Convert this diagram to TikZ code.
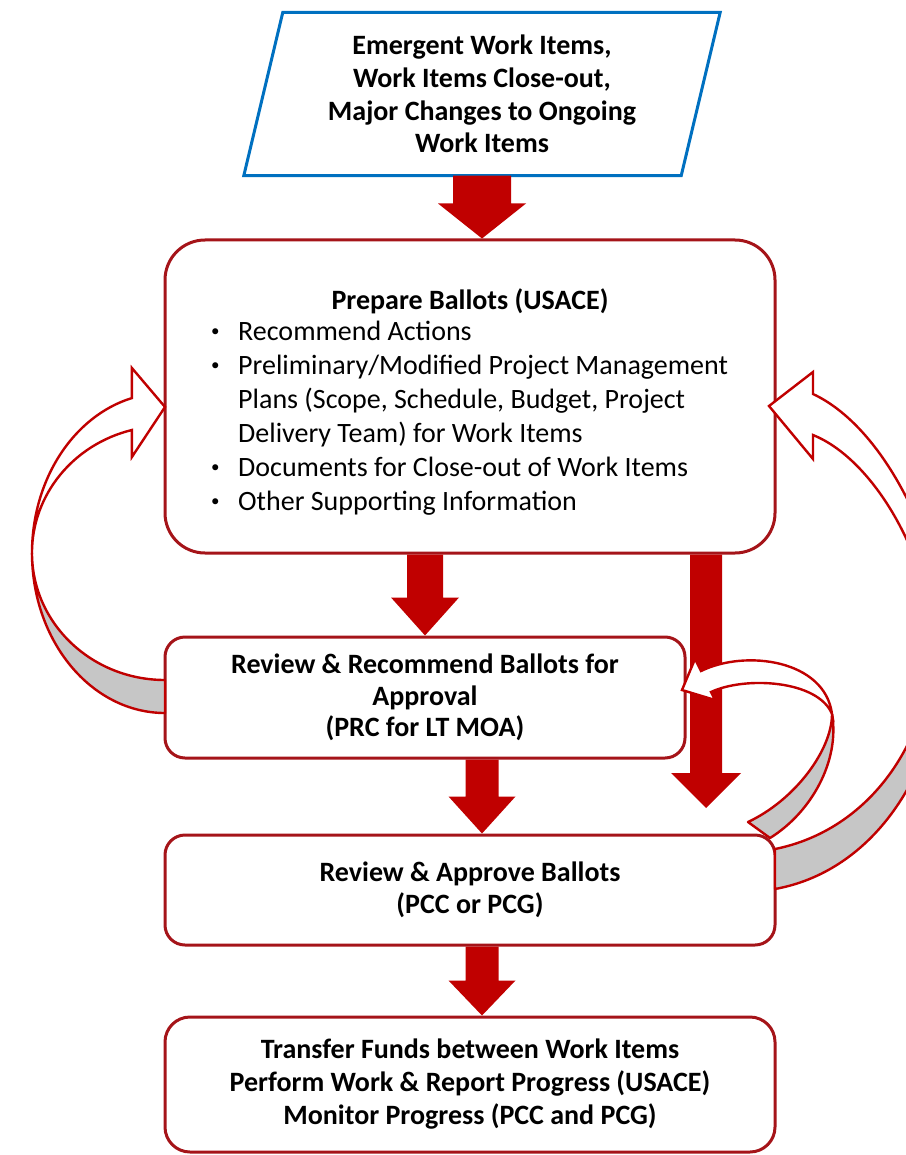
\documentclass[tikz,border=0pt]{standalone}
\usepackage{fontspec}
\setmainfont{Carlito}
\usetikzlibrary{calc}
\definecolor{boxred}{RGB}{165,20,25}
\definecolor{arrowred}{RGB}{192,0,0}
\definecolor{pblue}{RGB}{0,112,192}
\definecolor{bandgray}{RGB}{198,198,198}
% block arrow pointing down: start, tip, shaft half width, head half width, head length
\newcommand\flowarrow[5]{%
  \fill[arrowred] let \p1=(#1), \p2=(#2) in
    (\x1-#3pt,\y1) -- (\x1+#3pt,\y1) -- (\x1+#3pt,\y2+#5pt) -- (\x1+#4pt,\y2+#5pt)
    -- (\x1,\y2) -- (\x1-#4pt,\y2+#5pt) -- (\x1-#3pt,\y2+#5pt) -- cycle;}
% small list bullet
\newcommand\listdot{\raisebox{3.6pt}{\fontsize{17}{17}\selectfont •}}
\begin{document}
\begin{tikzpicture}[x=1pt,y=-1pt,
  box/.style={draw=boxred, line width=3pt, fill=white, rounded corners=20pt, inner sep=0pt},
  lbl/.style={font=\fontsize{28}{#1}\selectfont\bfseries, align=center, inner sep=0pt},
  lbl/.default=33,
  pgram/.style={draw=pblue, line width=3pt, line join=miter},
  cband/.style={draw=arrowred, line width=2.4pt, fill=bandgray, line join=round},
  cfront/.style={draw=arrowred, line width=2.4pt, fill=white, line join=miter}]
\useasboundingbox (0,0) rectangle (905,1155);

% input: parallelogram with its text
\node[lbl=32.7, minimum width=476pt, minimum height=163pt] (p) at (482,94)
  {Emergent Work Items,\\Work Items Close-out,\\Major Changes to Ongoing\\Work Items};
\draw[pgram] ($(p.north west)+(39,0)$) -- (p.north east)
  -- ($(p.south east)+(-39,0)$) -- (p.south west) -- cycle;

% process boxes
\node[box, rounded corners=40pt, minimum width=610pt, minimum height=313pt] (b2) at (470,396.5) {};
\node[lbl, anchor=base] (t2) at (470,309) {Prepare Ballots (USACE)};
\node[anchor=north west, inner sep=0pt, font=\fontsize{28}{34}\selectfont] (l2) at (211,316)
  {\begin{tabular}{@{}p{27pt}@{}l@{}}
   \listdot&Recommend Actions\\
   \listdot&Preliminary/Modified Project Management\\
    &Plans (Scope, Schedule, Budget, Project\\
    &Delivery Team) for Work Items\\
   \listdot&Documents for Close-out of Work Items\\
   \listdot&Other Supporting Information
   \end{tabular}};

\node[box, lbl=31.5, minimum width=520pt, minimum height=121pt] (b3) at (425,697.5)
  {Review \& Recommend Ballots for\\Approval\\(PRC for LT MOA)};
\node[box, lbl=32, minimum width=610pt, minimum height=110pt] (b4) at (470,890)
  {Review \& Approve Ballots\\(PCC or PCG)};
\node[box, lbl=33, rounded corners=25pt, minimum width=610pt, minimum height=135pt] (b5) at (470,1084.5)
  {Transfer Funds between Work Items\\Perform Work \& Report Progress (USACE)\\Monitor Progress (PCC and PCG)};

% straight flow arrows
\coordinate (c3) at ($(b4.north)+(12,0)$);
\coordinate (c4) at ($(b5.north)+(12,0)$);
\coordinate (c5) at (706,808);
\flowarrow{p.south}{p.south |- b2.north}{29}{44}{35}
\flowarrow{b3.north |- b2.south}{b3.north}{18}{34}{38}
\flowarrow{c3 |- b3.south}{c3}{16.5}{33.5}{37}
\flowarrow{c4 |- b4.south}{c4}{16.5}{33.5}{35}
\flowarrow{c5 |- b2.south}{c5}{16}{35}{35}

% left feedback arrow: b3 back to b2
\draw[cband] (165,680) arc[start angle=90, end angle=180, x radius=133, y radius=127]
  arc[start angle=180, end angle=90, x radius=133, y radius=160] -- cycle;
\draw[cfront] (32,553) arc[start angle=180, end angle=255.6, x radius=133, y radius=160]
  -- (131.9,368) -- (165,407) -- (131.9,457) -- (131.9,430)
  arc[start angle=255.6, end angle=180, x radius=133, y radius=127] -- cycle;

% right feedback arrow: b4 back to b2
\draw[cband] (932,640) .. controls (932,740) and (870,830) .. (775,849)
  -- (775,889) .. controls (880,870) and (945,760) .. (945,640) -- cycle;
\draw[cfront] (945,640) .. controls (945,560) and (890,430) .. (813,394)
  -- (813,372) -- (769,406) -- (813,459) -- (813,435)
  .. controls (875,460) and (930,560) .. (932,640) -- cycle;

% small feedback arrow: b4 back to b3
\draw[cband] (832,714) .. controls (840,760) and (812,812) .. (770,838)
  -- (748,822) .. controls (795,800) and (832,750) .. (832,714) -- cycle;
\draw[cfront] (832,714) .. controls (825,660) and (746,649) .. (701,671)
  -- (695,659) -- (682,690) -- (715,700) -- (711,692)
  .. controls (745,676) and (818,680) .. (832,714) -- cycle;
\end{tikzpicture}
\end{document}
